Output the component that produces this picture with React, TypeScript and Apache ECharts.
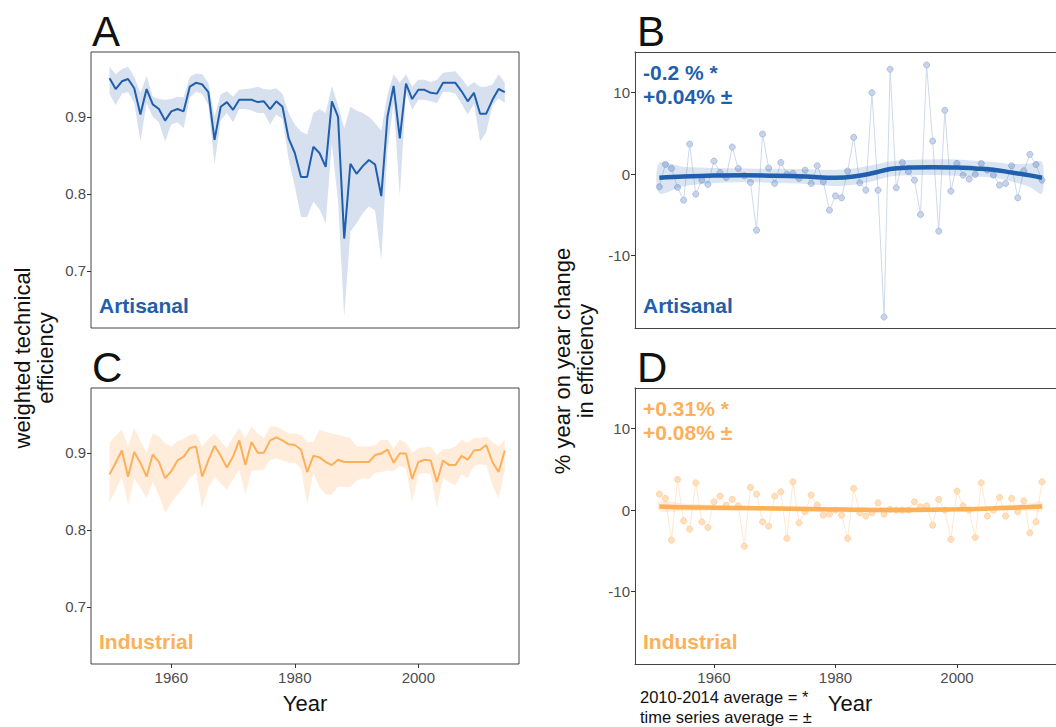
import React, { useEffect, useRef } from "react";
import * as echarts from "echarts";

const START_YEAR = 1950;

// Panel A: artisanal weighted technical efficiency (1950-2014)
const artisanalMean = [
  0.950, 0.936, 0.946, 0.949, 0.937, 0.903, 0.936, 0.916, 0.910, 0.895,
  0.907, 0.910, 0.907, 0.939, 0.944, 0.942, 0.932, 0.870, 0.913, 0.919,
  0.909, 0.922, 0.922, 0.922, 0.919, 0.920, 0.910, 0.920, 0.913, 0.872,
  0.853, 0.822, 0.822, 0.861, 0.853, 0.835, 0.920, 0.900, 0.742, 0.839,
  0.826, 0.836, 0.844, 0.838, 0.797, 0.900, 0.940, 0.872, 0.943, 0.923,
  0.935, 0.935, 0.931, 0.930, 0.944, 0.944, 0.944, 0.933, 0.920, 0.931,
  0.904, 0.904, 0.922, 0.936, 0.932,
];
const artisanalUpper = [
  0.965, 0.955, 0.962, 0.965, 0.952, 0.931, 0.953, 0.926, 0.923, 0.922,
  0.923, 0.926, 0.925, 0.952, 0.956, 0.955, 0.944, 0.900, 0.929, 0.933,
  0.926, 0.935, 0.936, 0.937, 0.939, 0.936, 0.935, 0.937, 0.930, 0.905,
  0.890, 0.881, 0.877, 0.905, 0.910, 0.905, 0.940, 0.915, 0.885, 0.913,
  0.908, 0.905, 0.900, 0.892, 0.882, 0.929, 0.955, 0.944, 0.955, 0.939,
  0.948, 0.948, 0.945, 0.948, 0.957, 0.958, 0.959, 0.950, 0.939, 0.945,
  0.939, 0.939, 0.942, 0.955, 0.944,
];
const artisanalLower = [
  0.930, 0.915, 0.930, 0.932, 0.918, 0.868, 0.918, 0.900, 0.893, 0.868,
  0.890, 0.893, 0.885, 0.925, 0.932, 0.930, 0.915, 0.838, 0.895, 0.905,
  0.893, 0.910, 0.910, 0.908, 0.905, 0.905, 0.890, 0.903, 0.897, 0.845,
  0.810, 0.770, 0.770, 0.790, 0.780, 0.762, 0.865, 0.790, 0.641, 0.751,
  0.762, 0.775, 0.784, 0.778, 0.714, 0.857, 0.918, 0.797, 0.932, 0.909,
  0.922, 0.922, 0.920, 0.918, 0.932, 0.932, 0.930, 0.917, 0.903, 0.917,
  0.868, 0.880, 0.915, 0.924, 0.918,
];

// Panel C: industrial weighted technical efficiency (1950-2014)
const industrialMean = [
  0.872, 0.887, 0.903, 0.869, 0.901, 0.887, 0.869, 0.898, 0.888, 0.867,
  0.876, 0.890, 0.895, 0.906, 0.908, 0.869, 0.890, 0.909, 0.896, 0.881,
  0.895, 0.916, 0.884, 0.914, 0.900, 0.900, 0.916, 0.920, 0.916, 0.911,
  0.910, 0.904, 0.875, 0.896, 0.894, 0.888, 0.884, 0.891, 0.888, 0.888,
  0.888, 0.888, 0.888, 0.897, 0.899, 0.904, 0.887, 0.899, 0.899, 0.866,
  0.888, 0.891, 0.890, 0.862, 0.890, 0.884, 0.884, 0.896, 0.891, 0.903,
  0.904, 0.910, 0.888, 0.875, 0.903,
];
const industrialUpper = [
  0.913, 0.922, 0.930, 0.908, 0.932, 0.915, 0.900, 0.925, 0.921, 0.912,
  0.908, 0.915, 0.918, 0.923, 0.925, 0.908, 0.918, 0.925, 0.915, 0.906,
  0.920, 0.932, 0.919, 0.934, 0.925, 0.919, 0.934, 0.934, 0.930, 0.925,
  0.925, 0.923, 0.914, 0.914, 0.930, 0.927, 0.925, 0.923, 0.921, 0.919,
  0.908, 0.908, 0.908, 0.910, 0.917, 0.917, 0.906, 0.917, 0.913, 0.900,
  0.906, 0.907, 0.908, 0.897, 0.905, 0.905, 0.908, 0.917, 0.913, 0.919,
  0.919, 0.921, 0.914, 0.908, 0.917,
];
const industrialLower = [
  0.835, 0.852, 0.869, 0.833, 0.867, 0.855, 0.841, 0.862, 0.845, 0.822,
  0.835, 0.846, 0.855, 0.867, 0.874, 0.829, 0.855, 0.869, 0.860, 0.852,
  0.865, 0.878, 0.846, 0.877, 0.877, 0.878, 0.891, 0.893, 0.890, 0.887,
  0.887, 0.880, 0.833, 0.874, 0.855, 0.846, 0.846, 0.856, 0.856, 0.856,
  0.864, 0.867, 0.866, 0.874, 0.875, 0.877, 0.876, 0.883, 0.880, 0.835,
  0.872, 0.874, 0.872, 0.829, 0.867, 0.862, 0.858, 0.872, 0.867, 0.883,
  0.885, 0.884, 0.858, 0.841, 0.878,
];

// Panel B: artisanal year-on-year % change (1951-2014)
const artisanalYoY = [
  -1.56, 1.19, 0.70, -1.64, -3.2, 3.69, -2.46, -0.74, -1.27, 1.60,
  0.2, -0.41, 3.32, 0.7, -0.2, -1.02, -6.89, 4.92, 0.74, -1.15,
  1.43, 0.0, 0.08, -0.53, 0.49, -1.15, 1.03, -0.94, -4.43, -2.67,
  -2.91, 0.37, 4.51, -1.07, -1.97, 10.0, -1.97, -17.55, 12.88, -1.68,
  1.43, 0.3, -0.74, -4.96, 13.4, 4.06, -7.01, 7.83, -2.09, 1.31,
  -0.12, -0.61, -0.04, 1.31, 0.5, -0.12, -1.35, -1.15, 1.03, -2.91,
  0.41, 2.42, 1.19, -0.74,
];
// Panel D: industrial year-on-year % change (1951-2014)
const industrialYoY = [
  1.97, 1.44, -3.69, 3.77, -1.31, -2.34, 3.36, -1.44, -2.13, 1.02,
  1.72, 0.6, 1.31, 0.53, -4.43, 2.79, 1.97, -1.44, -1.97, 1.72,
  2.25, -3.48, 3.48, -1.56, -0.2, 1.85, 0.62, -0.62, -0.5, 0.0,
  -0.62, -3.48, 2.66, -0.33, -0.74, -0.33, 0.9, -0.5, 0.1, 0.0,
  0.0, 0.0, 1.02, 0.41, 0.53, -1.85, 1.31, 0.0, -3.6, 2.34,
  0.53, 0.0, -3.36, 3.36, -0.74, 0.0, 1.56, -0.74, 1.44, -0.2,
  1.15, -2.79, -1.44, 3.48,
];

// Smoothed trend (loess) read at knot years
const smoothYears = [1951, 1955, 1960, 1965, 1970, 1975, 1980, 1983, 1986, 1989, 1992, 1996, 2000, 2003, 2006, 2009, 2012, 2014];
const artisanalSmooth = [-0.45, -0.3, -0.18, -0.15, -0.2, -0.3, -0.45, -0.3, 0.1, 0.62, 0.8, 0.85, 0.82, 0.7, 0.55, 0.2, -0.15, -0.45];
const artisanalSmoothUpper = [1.4, 0.9, 0.75, 0.7, 0.65, 0.6, 0.55, 0.7, 1.1, 1.55, 1.75, 1.8, 1.8, 1.65, 1.5, 1.25, 1.3, 1.5];
const artisanalSmoothLower = [-2.35, -1.5, -1.1, -1.0, -1.05, -1.2, -1.45, -1.3, -0.9, -0.3, -0.15, -0.1, -0.2, -0.3, -0.45, -0.9, -1.6, -2.4];
const industrialSmooth = [0.45, 0.35, 0.3, 0.25, 0.2, 0.15, 0.08, 0.05, 0.03, 0.02, 0.02, 0.05, 0.1, 0.15, 0.22, 0.3, 0.38, 0.45];
const industrialSmoothUpper = [1.05, 0.8, 0.65, 0.55, 0.5, 0.45, 0.38, 0.35, 0.33, 0.32, 0.32, 0.35, 0.4, 0.45, 0.52, 0.65, 0.83, 1.05];
const industrialSmoothLower = [-0.15, -0.1, -0.05, -0.05, -0.1, -0.15, -0.22, -0.25, -0.27, -0.28, -0.28, -0.25, -0.2, -0.15, -0.08, -0.05, -0.07, -0.15];

const xTicks = [1960, 1980, 2000];
const effTicks = [0.7, 0.8, 0.9];
const yoyTicks = [-10, 0, 10];

const years = artisanalMean.map((_, i) => START_YEAR + i);
const yoyYears = artisanalYoY.map((_, i) => START_YEAR + 1 + i);

const BLUE = "#1f5fad";
const ORANGE = "#fdb05a";
const BORDER = "#444";
const FONT = "'Liberation Sans', Arial, sans-serif";

const pairs = (xs: number[], ys: number[]) => xs.map((x, i) => [x, ys[i]]);

function bandSeries(gi: number, xs: number[], lo: number[], hi: number[], color: string, smooth: number) {
  return {
    type: "custom",
    xAxisIndex: gi,
    yAxisIndex: gi,
    silent: true,
    clip: true,
    z: 1,
    data: [[xs[0], lo[0]]],
    renderItem: (_params: any, api: any) => {
      const top = xs.map((x, i) => api.coord([x, hi[i]]));
      const bot = xs.map((x, i) => api.coord([x, lo[i]])).reverse();
      return {
        type: "polygon",
        shape: { points: top.concat(bot), smooth },
        style: { fill: color, stroke: "none" },
      };
    },
  };
}

function buildOption() {
  const boxes = [
    { left: 91, top: 52 },
    { left: 635, top: 52 },
    { left: 91, top: 388 },
    { left: 635, top: 388 },
  ];
  const grids = boxes.map((g, i) => ({
    ...g, width: 428, height: 276,
    show: i === 0 || i === 2, borderColor: BORDER, borderWidth: 1, backgroundColor: "transparent",
  }));

  const rightSide = (i: number) => i === 1 || i === 3;

  const xAxis: any[] = [0, 1, 2, 3].map((i) => ({
    type: "value", gridIndex: i, min: 1947, max: 2016.3, position: "bottom",
    splitLine: { show: false },
    axisLine: { show: rightSide(i), onZero: false, lineStyle: { color: BORDER, width: 1 } },
    axisTick: { show: i >= 2, length: 4, lineStyle: { color: "#333" }, customValues: xTicks },
    axisLabel: { show: i >= 2, margin: 6, color: "#4d4d4d", fontSize: 15, fontFamily: FONT, customValues: xTicks, formatter: (v: number) => String(v) },
  }));
  // top border lines for the right-hand panels (their right edge lies off the page)
  [1, 3].forEach((gi) => {
    xAxis.push({
      type: "value", gridIndex: gi, min: 1947, max: 2016.3, position: "top",
      splitLine: { show: false },
      axisLine: { show: true, onZero: false, lineStyle: { color: BORDER, width: 1 } },
      axisTick: { show: false }, axisLabel: { show: false },
    });
  });

  const yAxis = [0, 1, 2, 3].map((i) => {
    const eff = i === 0 || i === 2;
    return {
      type: "value", gridIndex: i,
      min: eff ? 0.626 : -18.9, max: eff ? 0.984 : 15.0,
      splitLine: { show: false },
      axisLine: { show: rightSide(i), onZero: false, lineStyle: { color: BORDER, width: 1 } },
      axisTick: { show: true, length: 4, lineStyle: { color: "#333" }, customValues: eff ? effTicks : yoyTicks },
      axisLabel: {
        show: true, margin: 5, color: "#4d4d4d", fontSize: 15, fontFamily: FONT,
        customValues: eff ? effTicks : yoyTicks,
        formatter: (v: number) => (eff ? v.toFixed(1) : String(Math.round(v))),
      },
    };
  });

  const series: any[] = [
    bandSeries(0, years, artisanalLower, artisanalUpper, "#d7e0ef", 0),
    { type: "line", xAxisIndex: 0, yAxisIndex: 0, data: pairs(years, artisanalMean), symbol: "none", lineStyle: { color: BLUE, width: 2 }, z: 3 },
    bandSeries(2, years, industrialLower, industrialUpper, "#ffecda", 0),
    { type: "line", xAxisIndex: 2, yAxisIndex: 2, data: pairs(years, industrialMean), symbol: "none", lineStyle: { color: ORANGE, width: 2 }, z: 3 },

    {
      type: "line", xAxisIndex: 1, yAxisIndex: 1, data: pairs(yoyYears, artisanalYoY), symbol: "circle", symbolSize: 6, showAllSymbol: true,
      lineStyle: { color: "#cdd9ec", width: 1 }, itemStyle: { color: "#c6d3eb", borderColor: "#adbfdf", borderWidth: 1 }, z: 1,
    },
    { ...bandSeries(1, smoothYears, artisanalSmoothLower, artisanalSmoothUpper, "rgba(31,95,173,0.16)", 0.3), z: 2 },
    { type: "line", xAxisIndex: 1, yAxisIndex: 1, data: pairs(smoothYears, artisanalSmooth), symbol: "none", smooth: 0.4, lineStyle: { color: BLUE, width: 4.5 }, z: 4 },

    {
      type: "line", xAxisIndex: 3, yAxisIndex: 3, data: pairs(yoyYears, industrialYoY), symbol: "circle", symbolSize: 6, showAllSymbol: true,
      lineStyle: { color: "#ffe8d0", width: 1 }, itemStyle: { color: "#ffdfbc", borderColor: "#fed3a4", borderWidth: 1 }, z: 1,
    },
    { ...bandSeries(3, smoothYears, industrialSmoothLower, industrialSmoothUpper, "rgba(253,176,90,0.22)", 0.3), z: 2 },
    { type: "line", xAxisIndex: 3, yAxisIndex: 3, data: pairs(smoothYears, industrialSmooth), symbol: "none", smooth: 0.4, lineStyle: { color: ORANGE, width: 4.5 }, z: 4 },
  ];

  const txt = (text: string, x: number, y: number, size: number, fill: string, extra: any = {}) => ({
    type: "text", x, y, z: 100, silent: true,
    style: { text, fill, fontSize: size, fontFamily: FONT, align: "left", verticalAlign: "middle", ...extra },
  });

  const graphic = [
    txt("A", 92, 31, 42, "#111"),
    txt("B", 637, 31, 42, "#111"),
    txt("C", 92, 367, 42, "#111"),
    txt("D", 637, 367, 42, "#111"),
    txt("Artisanal", 99, 305, 21, BLUE, { fontWeight: "bold" }),
    txt("Artisanal", 643, 305, 21, BLUE, { fontWeight: "bold" }),
    txt("-0.2 % *", 643, 72, 21, BLUE, { fontWeight: "bold" }),
    txt("+0.04% ±", 643, 96, 21, BLUE, { fontWeight: "bold" }),
    txt("Industrial", 99, 641, 21, ORANGE, { fontWeight: "bold" }),
    txt("Industrial", 643, 641, 21, ORANGE, { fontWeight: "bold" }),
    txt("+0.31% *", 643, 408, 21, ORANGE, { fontWeight: "bold" }),
    txt("+0.08% ±", 643, 432, 21, ORANGE, { fontWeight: "bold" }),
    txt("Year", 305, 703, 22, "#111", { align: "center" }),
    txt("Year", 850, 703, 22, "#111", { align: "center" }),
    txt("2010-2014 average = *", 640, 697, 16.5, "#111"),
    txt("time series average = ±", 640, 717, 16.5, "#111"),
    {
      type: "text", x: 34, y: 358, rotation: Math.PI / 2, z: 100, silent: true,
      style: { text: "weighted technical\nefficiency", fill: "#111", fontSize: 22, lineHeight: 23, fontFamily: FONT, align: "center", verticalAlign: "middle" },
    },
    {
      type: "text", x: 574, y: 361, rotation: Math.PI / 2, z: 100, silent: true,
      style: { text: "% year on year change\nin efficiency", fill: "#111", fontSize: 22, lineHeight: 23, fontFamily: FONT, align: "center", verticalAlign: "middle" },
    },
  ];

  return {
    animation: false,
    backgroundColor: "#ffffff",
    textStyle: { fontFamily: FONT },
    grid: grids,
    xAxis,
    yAxis,
    series,
    graphic,
  };
}

export default function App() {
  const ref = useRef<HTMLDivElement>(null);
  useEffect(() => {
    if (!ref.current) return;
    const chart = echarts.init(ref.current, null, { renderer: "svg" });
    chart.setOption(buildOption() as any);
    return () => chart.dispose();
  }, []);
  return (
    <div
      ref={ref}
      style={{ position: "absolute", left: 0, top: 0, width: 1056, height: 727, background: "#fff" }}
    />
  );
}
